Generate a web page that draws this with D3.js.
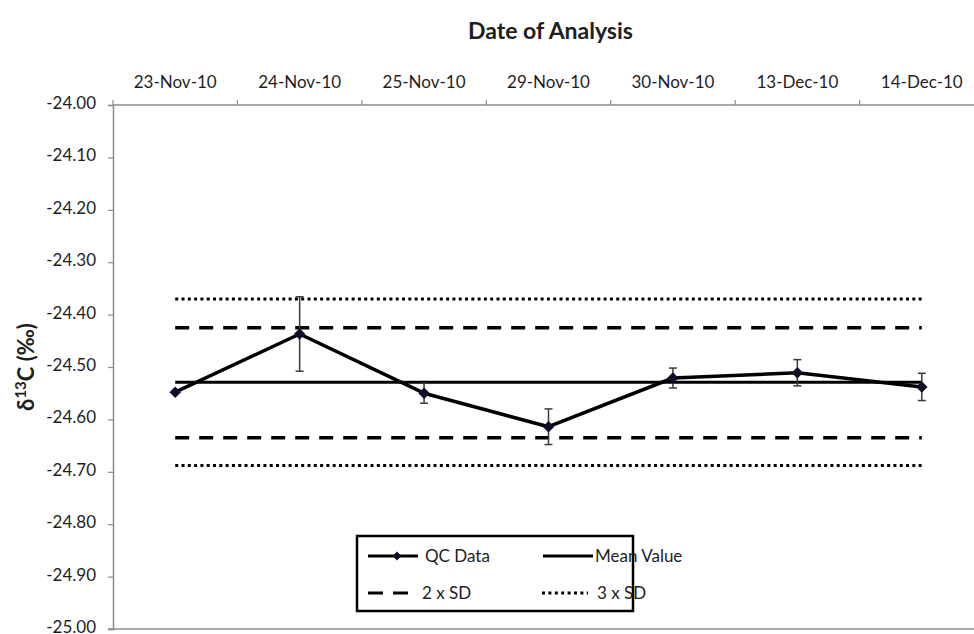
<!DOCTYPE html>
<html>
<head>
<meta charset="utf-8">
<script src="https://cdn.jsdelivr.net/npm/d3@7"></script>
<style>
  html, body { margin: 0; padding: 0; background: #fff; }
  svg { display: block; font-family: Lato, "Open Sans", sans-serif; }
</style>
</head>
<body>
<svg id="chart" width="974" height="634"></svg>
<script>
// Quality-control run: δ13C of the reference material on each analysis date
const dates = ["23-Nov-10", "24-Nov-10", "25-Nov-10", "29-Nov-10", "30-Nov-10", "13-Dec-10", "14-Dec-10"];
const qcValues = [-24.548, -24.437, -24.550, -24.614, -24.521, -24.511, -24.538];
const qcErrors = [0, 0.071, 0.019, 0.034, 0.019, 0.025, 0.026];

// Control limits
const meanValue = -24.529;
const sd2Limits = [-24.425, -24.635];
const sd3Limits = [-24.370, -24.688];

const yTicks = [-24.0, -24.1, -24.2, -24.3, -24.4, -24.5, -24.6, -24.7, -24.8, -24.9, -25.0];
const legendItems = ["QC Data", "Mean Value", "2 x SD", "3 x SD"];

const svg = d3.select("#chart");
const plotLeft = 113, plotRight = 984, plotTop = 105, plotBottom = 629;

const x = d3.scaleBand().domain(dates).range([plotLeft, plotRight]).padding(0);
const cx = d => x(d) + x.bandwidth() / 2;
const y = d3.scaleLinear().domain([-24.0, -25.0]).range([plotTop, plotBottom]);

const axisColor = "#8c8c8c";
const textColor = "#1e1e1e";

// Title
svg.append("text")
  .attr("x", (plotLeft + plotRight) / 2 + 2).attr("y", 39)
  .attr("text-anchor", "middle")
  .attr("font-size", 23).attr("font-weight", "bold")
  .attr("fill", textColor)
  .text("Date of Analysis");

// Y axis
const yAxis = svg.append("g")
  .attr("transform", `translate(${plotLeft},0)`)
  .call(d3.axisLeft(y).tickValues(yTicks).tickSize(5).tickPadding(12).tickFormat(d => d.toFixed(2)));
yAxis.select(".domain").attr("stroke", axisColor).attr("stroke-width", 1.5);
yAxis.selectAll(".tick line").attr("stroke", axisColor).attr("stroke-width", 1.2);
yAxis.selectAll(".tick text").attr("font-size", 17).attr("fill", textColor)
  .attr("dy", "0.2em")
  .attr("font-family", "Lato, sans-serif");

// Bottom frame line
svg.append("line")
  .attr("x1", plotLeft - 5).attr("x2", plotRight)
  .attr("y1", y(-25.0)).attr("y2", y(-25.0))
  .attr("stroke", axisColor).attr("stroke-width", 1.5);

// Category axis along the top, short ticks between categories
svg.append("line")
  .attr("x1", plotLeft).attr("x2", plotRight)
  .attr("y1", plotTop).attr("y2", plotTop)
  .attr("stroke", axisColor).attr("stroke-width", 1.5);
const boundaries = dates.map(d => x(d)).concat([x.range()[1]]);
svg.append("g").attr("class", "cat-ticks").selectAll("line").data(boundaries).join("line")
  .attr("x1", d => d).attr("x2", d => d)
  .attr("y1", plotTop - 5).attr("y2", plotTop)
  .attr("stroke", axisColor).attr("stroke-width", 1.2);
svg.append("g").attr("class", "cat-labels").selectAll("text").data(dates).join("text")
  .attr("x", d => cx(d)).attr("y", 88)
  .attr("text-anchor", "middle")
  .attr("font-size", 17).attr("fill", textColor)
  .text(d => d);

// Y axis title
const yTitle = svg.append("text")
  .attr("transform", `translate(34,${(plotTop + plotBottom) / 2}) rotate(-90)`)
  .attr("text-anchor", "middle")
  .attr("font-size", 22).attr("font-weight", "bold")
  .attr("fill", textColor);
yTitle.append("tspan").text("δ");
yTitle.append("tspan").attr("font-size", 15).attr("dy", -8).text("13");
yTitle.append("tspan").attr("dy", 8).text("C (‰)");

// Horizontal reference lines across the categories
const xFirst = cx(dates[0]), xLast = cx(dates[dates.length - 1]);
function hline(v, dash, width) {
  svg.append("line")
    .attr("x1", xFirst).attr("x2", xLast)
    .attr("y1", y(v)).attr("y2", y(v))
    .attr("stroke", "#000").attr("stroke-width", width)
    .attr("stroke-dasharray", dash);
}
sd3Limits.forEach(v => hline(v, "3,3.3", 3));
sd2Limits.forEach(v => hline(v, "14,10", 3.5));
hline(meanValue, null, 3);

// Error bars
const eb = svg.append("g").attr("stroke", "#3a3a3a").attr("stroke-width", 1.5);
dates.forEach((d, i) => {
  if (!qcErrors[i]) return;
  const hi = y(qcValues[i] + qcErrors[i]), lo = y(qcValues[i] - qcErrors[i]);
  eb.append("line").attr("x1", cx(d)).attr("x2", cx(d)).attr("y1", hi).attr("y2", lo);
  eb.append("line").attr("x1", cx(d) - 4).attr("x2", cx(d) + 4).attr("y1", hi).attr("y2", hi);
  eb.append("line").attr("x1", cx(d) - 4).attr("x2", cx(d) + 4).attr("y1", lo).attr("y2", lo);
});

// QC data line and markers
const line = d3.line().x((v, i) => cx(dates[i])).y(v => y(v));
svg.append("path").datum(qcValues)
  .attr("d", line)
  .attr("fill", "none").attr("stroke", "#000").attr("stroke-width", 3.5)
  .attr("stroke-linejoin", "round");
const diamond = d3.symbol().type(d3.symbolDiamond2).size(85);
svg.append("g").selectAll("path").data(qcValues).join("path")
  .attr("transform", (v, i) => `translate(${cx(dates[i])},${y(v)})`)
  .attr("d", diamond)
  .attr("fill", "#0f1028");

// Legend
const lg = svg.append("g");
lg.append("rect").attr("x", 357).attr("y", 536).attr("width", 276).attr("height", 75)
  .attr("fill", "#fff").attr("stroke", "#000").attr("stroke-width", 2.5);
const rows = [
  { x: 368, y: 556, item: legendItems[0], dash: null, marker: true, w: 50, tx: 425 },
  { x: 543, y: 556, item: legendItems[1], dash: null, marker: false, w: 50, tx: 595 },
  { x: 368, y: 593, item: legendItems[2], dash: "15,10", marker: false, w: 40, tx: 422 },
  { x: 542, y: 593, item: legendItems[3], dash: "3,3.4", marker: false, w: 46, tx: 597 }
];
rows.forEach(r => {
  lg.append("line").attr("x1", r.x).attr("x2", r.x + r.w)
    .attr("y1", r.y).attr("y2", r.y)
    .attr("stroke", "#000").attr("stroke-width", 3)
    .attr("stroke-dasharray", r.dash);
  if (r.marker) {
    lg.append("path").attr("transform", `translate(${r.x + 29},${r.y})`)
      .attr("d", d3.symbol().type(d3.symbolDiamond2).size(50)).attr("fill", "#0f1028");
  }
  lg.append("text").attr("x", r.tx).attr("y", r.y + 6)
    .attr("font-size", 17).attr("fill", textColor).text(r.item);
});
</script>
</body>
</html>
